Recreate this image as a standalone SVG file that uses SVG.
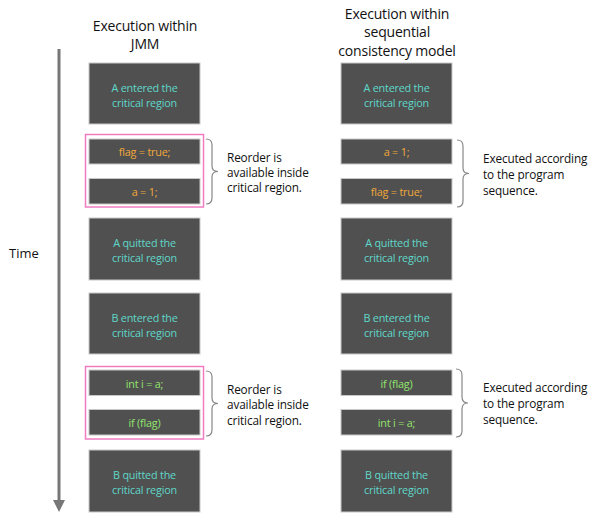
<svg xmlns="http://www.w3.org/2000/svg" width="597" height="525" viewBox="0 0 597 525">
<style>
.box{fill:#505050;stroke:#c8c8c8;stroke-width:1}
.pink{fill:none;stroke:#f07cc0;stroke-width:1.5}
.t{font-family:"Open Sans",Lato,sans-serif;font-size:10.8px;text-anchor:middle;letter-spacing:-0.2px}
.teal{fill:#5fd8ca}
.org{fill:#f2a83a}
.grn{fill:#92e66c}
.hd{font-family:"Open Sans",Lato,sans-serif;font-size:14px;fill:#111;text-anchor:middle;letter-spacing:-0.2px}
.nt{font-family:"Open Sans",Lato,sans-serif;font-size:11.8px;fill:#111;letter-spacing:-0.15px}
.brace{fill:none;stroke:#888;stroke-width:1.2}
</style>
<defs>
<marker id="ah" markerWidth="4" markerHeight="4" refX="2" refY="2" orient="auto" markerUnits="strokeWidth"><path d="M0,0 L4,2 L0,4 z" fill="#777"/></marker>
</defs>
<rect width="597" height="525" fill="#fff"/>
<text class="hd" x="145" y="31">Execution within</text>
<text class="hd" x="145" y="49">JMM</text>
<text class="hd" x="397" y="19">Execution within</text>
<text class="hd" x="397" y="37">sequential</text>
<text class="hd" x="397" y="56">consistency model</text>
<text x="24" y="258" style="font-family:'Open Sans',Lato,sans-serif;font-size:13px;fill:#111;text-anchor:middle">Time</text>
<g id="connectors">
<line x1="59" y1="49" x2="59" y2="506" stroke="#777" stroke-width="3" marker-end="url(#ah)"/>
</g>
<g id="l1"><rect class="box" x="89" y="63" width="111" height="61"/><text class="t teal" x="144.5" y="92">A entered the</text><text class="t teal" x="144.5" y="107">critical region</text></g>
<g id="lgroup1"><rect class="pink" x="85.5" y="134.5" width="118" height="72.5"/></g>
<g id="l2"><rect class="box" x="89" y="139" width="111" height="25"/><text class="t org" x="144.5" y="156">flag = true;</text></g>
<g id="l3"><rect class="box" x="89" y="178.5" width="111" height="25.5"/><text class="t org" x="144.5" y="196">a = 1;</text></g>
<g id="l4"><rect class="box" x="89" y="218" width="111" height="62"/><text class="t teal" x="144.5" y="247">A quitted the</text><text class="t teal" x="144.5" y="262">critical region</text></g>
<g id="l5"><rect class="box" x="89" y="293" width="111" height="61"/><text class="t teal" x="144.5" y="322">B entered the</text><text class="t teal" x="144.5" y="337">critical region</text></g>
<g id="lgroup2"><rect class="pink" x="85.5" y="366.5" width="118" height="72.5"/></g>
<g id="l6"><rect class="box" x="89" y="370" width="111" height="25.5"/><text class="t grn" x="144.5" y="388">int i = a;</text></g>
<g id="l7"><rect class="box" x="89" y="409.5" width="111" height="25.5"/><text class="t grn" x="144.5" y="427">if (flag)</text></g>
<g id="l8"><rect class="box" x="89" y="450" width="111" height="62"/><text class="t teal" x="144.5" y="479">B quitted the</text><text class="t teal" x="144.5" y="494">critical region</text></g>
<g id="r1"><rect class="box" x="341" y="63" width="111" height="61"/><text class="t teal" x="396.5" y="92">A entered the</text><text class="t teal" x="396.5" y="107">critical region</text></g>
<g id="r2"><rect class="box" x="341" y="139" width="111" height="25"/><text class="t org" x="396.5" y="156">a = 1;</text></g>
<g id="r3"><rect class="box" x="341" y="178.5" width="111" height="25.5"/><text class="t org" x="396.5" y="196">flag = true;</text></g>
<g id="r4"><rect class="box" x="341" y="218" width="111" height="62"/><text class="t teal" x="396.5" y="247">A quitted the</text><text class="t teal" x="396.5" y="262">critical region</text></g>
<g id="r5"><rect class="box" x="341" y="293" width="111" height="61"/><text class="t teal" x="396.5" y="322">B entered the</text><text class="t teal" x="396.5" y="337">critical region</text></g>
<g id="r6"><rect class="box" x="341" y="370" width="111" height="25.5"/><text class="t grn" x="396.5" y="388">if (flag)</text></g>
<g id="r7"><rect class="box" x="341" y="409.5" width="111" height="25.5"/><text class="t grn" x="396.5" y="427">int i = a;</text></g>
<g id="r8"><rect class="box" x="341" y="450" width="111" height="62"/><text class="t teal" x="396.5" y="479">B quitted the</text><text class="t teal" x="396.5" y="494">critical region</text></g>
<g id="braces">
<path class="brace" d="M206,139 Q212,139 212,145 L212,166 Q212,171.5 218,171.5 Q212,171.5 212,177 L212,198 Q212,204 206,204"/>
<path class="brace" d="M206,371 Q212,371 212,377 L212,398 Q212,403.5 218,403.5 Q212,403.5 212,409 L212,430 Q212,436 206,436"/>
<path class="brace" d="M457,140 Q463,140 463,146 L463,168 Q463,173.5 469,173.5 Q463,173.5 463,179 L463,201 Q463,207 457,207"/>
<path class="brace" d="M456,369 Q462,369 462,375 L462,397 Q462,403 468,403 Q462,403 462,409 L462,431 Q462,437 456,437"/>
</g>
<g id="note1"><text class="nt" x="227" y="161.5">Reorder is</text><text class="nt" x="227" y="177">available inside</text><text class="nt" x="227" y="192">critical region.</text></g>
<g id="note2"><text class="nt" x="227" y="393.5">Reorder is</text><text class="nt" x="227" y="409">available inside</text><text class="nt" x="227" y="425">critical region.</text></g>
<g id="note3"><text class="nt" x="483" y="163">Executed according</text><text class="nt" x="483" y="178.5">to the program</text><text class="nt" x="483" y="194.5">sequence.</text></g>
<g id="note4"><text class="nt" x="483" y="391.5">Executed according</text><text class="nt" x="483" y="407.5">to the program</text><text class="nt" x="483" y="423.5">sequence.</text></g>
</svg>
